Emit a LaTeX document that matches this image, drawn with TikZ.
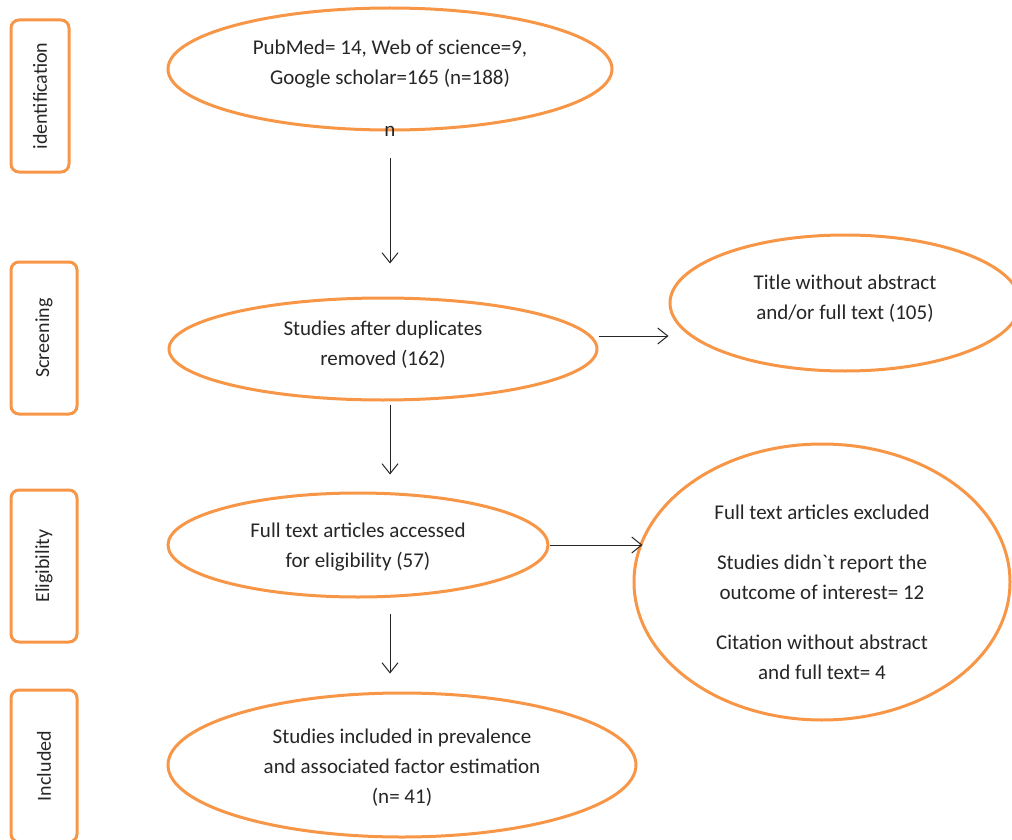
\documentclass[tikz,border=0pt]{standalone}
\usepackage{fontspec}
\setmainfont{Carlito}
\usetikzlibrary{shapes.geometric,arrows.meta}
\definecolor{boxorange}{HTML}{F79646}
\definecolor{txtgray}{HTML}{262626}

\begin{document}
\begin{tikzpicture}[x=1pt, y=-1pt, >={Straight Barb[length=10pt,width=16pt]}, font=\fontsize{21}{30}\selectfont]
    \tikzstyle{stage}=[draw=boxorange, line width=3pt, rounded corners=8pt, rotate=90, minimum width=152pt, minimum height=66pt, text=txtgray, font=\fontsize{20}{24}\selectfont]
    \tikzstyle{oval}=[ellipse, draw=boxorange, line width=3pt, inner sep=0pt]
    \tikzstyle{ovaltext}=[align=center, text=txtgray, inner sep=0pt]
    \tikzstyle{flow}=[->, draw=txtgray, line width=1pt]

    \useasboundingbox (0,0) rectangle (1012,840);

    % Phasen
    \node[stage, minimum height=58pt] (ident) at (40,96) {identification};
    \node[stage] (screen) at (44,338) {Screening};
    \node[stage] (elig) at (44,566) {Eligibility};
    \node[stage] (incl) at (44,766) {Included};

    % Ovale
    \node[oval, minimum width=444pt, minimum height=122pt, label={[ovaltext, yshift=5pt]center:PubMed= 14, Web of science=9,\\ Google scholar=165 (n=188)}] (e1) at (390,69) {};
    \node[text=txtgray, inner sep=2pt] (nlbl) at (390,131) {n};
    \node[oval, minimum width=428pt, minimum height=102pt, label={[ovaltext, yshift=4pt]center:Studies after duplicates\\ removed (162)}] (e2) at (383,349) {};
    \node[oval, minimum width=350pt, minimum height=136pt, label={[ovaltext, yshift=4pt]center:Title without abstract\\ and/or full text (105)}] (e3) at (845,303) {};
    \node[oval, minimum width=380pt, minimum height=104pt, label={[ovaltext, yshift=-2pt]center:Full text articles accessed\\ for eligibility (57)}] (e4) at (358,545) {};
    \node[oval, minimum width=376pt, minimum height=276pt, label={[ovaltext, yshift=-10pt]center:Full text articles excluded\\[20pt] Studies didn\textasciigrave t report the\\ outcome of interest= 12\\[20pt] Citation without abstract\\ and full text= 4}] (e5) at (822,582) {};
    \node[oval, minimum width=468pt, minimum height=144pt, label={[ovaltext, yshift=-3pt]center:Studies included in prevalence\\ and associated factor estimation\\ (n= 41)}] (e6) at (402,765) {};

    % Pfeile
    \draw[flow, shorten <=20pt, shorten >=33pt] (nlbl) -- (nlbl |- e2.north);
    \draw[flow] ([yshift=13pt]e2.east) -- ([yshift=13pt]e2.east -| e3.west);
    \draw[flow, shorten <=3pt, shorten >=17pt] (nlbl |- e2.south) -- (nlbl |- e4.north);
    \draw[flow] (e4.east) -- ([xshift=10pt]e4.east -| e5.west);
    \draw[flow, shorten <=15pt, shorten >=18pt] (nlbl |- e4.south) -- (nlbl |- e6.north);
\end{tikzpicture}
\end{document}
